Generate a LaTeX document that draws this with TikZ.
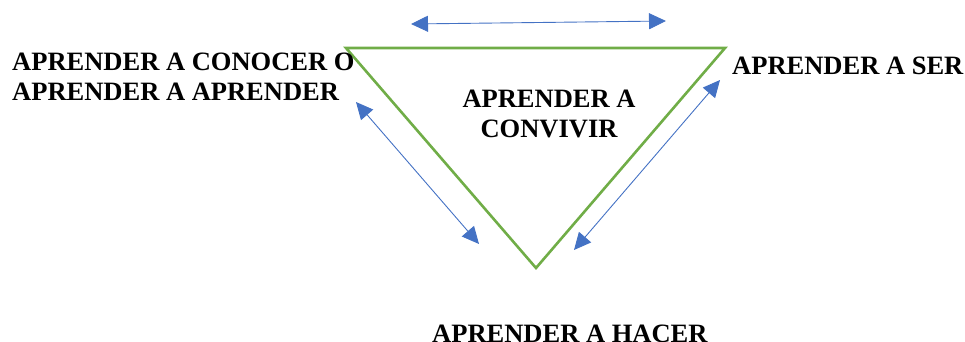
\documentclass[tikz,border=0pt]{standalone}
\usepackage{fontspec}
\setmainfont{Liberation Serif}
\usetikzlibrary{arrows.meta}
\definecolor{tgreen}{RGB}{112,173,71}
\definecolor{tblue}{RGB}{68,114,196}
\begin{document}
\begin{tikzpicture}[x=1pt,y=1pt,
  lbl/.style={inner sep=0pt,font=\fontsize{26.5}{30}\selectfont\bfseries},
  tip/.tip={Triangle[length=17pt,width=16pt]},
  dbl/.style={draw=tblue,line width=0.9pt,tip-tip}]
\useasboundingbox (0,0) rectangle (965,341);
\coordinate (tl) at (346,293);
\coordinate (tr) at (725,293);
\coordinate (bt) at (536,73);
\draw[tgreen,line width=2.6pt,line join=miter] (tl) -- (tr) -- (bt) -- cycle;
\coordinate (a1) at (411,317);
\coordinate (a2) at (666,320);
\coordinate (b1) at (356,239);
\coordinate (b2) at (479,97);
\coordinate (c1) at (720,261);
\coordinate (c2) at (574,91);
\draw[dbl] (a1) -- (a2);
\draw[dbl] (b1) -- (b2);
\draw[dbl] (c1) -- (c2);
\node[lbl,anchor=base west,align=left] (conocer) at (12,241) {APRENDER A CONOCER O\\APRENDER A APRENDER};
\node[lbl,anchor=base west] (ser) at (732,267) {APRENDER A SER};
\node[lbl,anchor=base,align=center] (convivir) at (549,204) {APRENDER A\\CONVIVIR};
\node[lbl,anchor=base west] (hacer) at (432,-1) {APRENDER A HACER};
\end{tikzpicture}
\end{document}
